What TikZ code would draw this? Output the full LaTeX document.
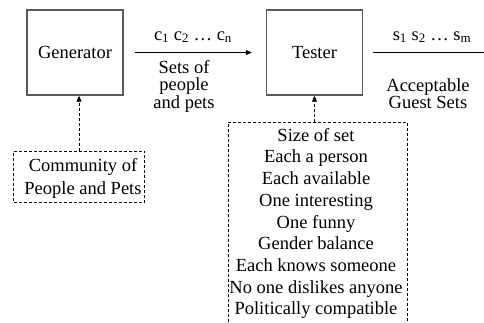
\documentclass[tikz,border=0pt]{standalone}
\usepackage{fontspec}
\setmainfont{Liberation Serif}[Ligatures=TeX]
\usetikzlibrary{arrows.meta}
\definecolor{boxgray}{HTML}{5A5A5A}
\begin{document}
\begin{tikzpicture}[x=1pt,y=-1pt,
  txt/.style={inner sep=0pt, font=\rmfamily\fontsize{18.5}{21.7}\selectfont},
  tight/.style={inner sep=0pt, align=center, font=\rmfamily\fontsize{18.5}{17.5}\selectfont},
  block/.style={txt, draw=boxgray, line width=1.3pt, minimum width=96pt, minimum height=85pt},
  flow/.style={draw=black, line width=0.9pt, -{Triangle[length=6pt,width=5pt]}},
  plainline/.style={draw=black, line width=0.9pt},
  dashline/.style={draw=black, line width=0.8pt, dash pattern=on 3pt off 2pt},
  dashflow/.style={dashline, -{Triangle[length=6pt,width=5pt]}}
]
\useasboundingbox (0,0) rectangle (484,322);

% main stages
\node[block] (gen) at (75,52.5) {Generator};
\node[block] (tester) at (314.5,52.5) {Tester};

% generator to tester
\draw[flow, shorten <=11pt, shorten >=14pt] (gen) -- (tester);
\node[txt, anchor=base] (cs) at (193,40) {c\textsubscript{1} c\textsubscript{2} … c\textsubscript{n}};
\node[tight, anchor=north] (setslab) at (184,60) {Sets of\\people\\and pets};

% tester output
\coordinate (outend) at (484,52.5);
\draw[plainline, shorten <=10pt] (tester) -- (outend);
\node[txt, anchor=base] (ss) at (432,40) {s\textsubscript{1} s\textsubscript{2} … s\textsubscript{m}};
\node[tight, anchor=north] (acclab) at (428,78) {Acceptable\\Guest Sets};

% community source
\node[draw=black, line width=0.8pt, dash pattern=on 3pt off 2pt, minimum width=131pt, minimum height=51pt, inner sep=0pt] (commbox) at (79,176.5) {};
\node[txt, align=center, font=\rmfamily\fontsize{18.5}{22.7}\selectfont] (commtext) at (83,178.5) {Community of\\People and Pets};
\draw[dashflow] (commbox.north) -- (commbox.north |- gen.south);

% constraint list
\coordinate (critbl) at (228,322);
\coordinate (crittl) at (228,122);
\coordinate (crittr) at (407,122);
\coordinate (critbr) at (407,322);
\draw[dashline] (critbl) -- (crittl) -- (crittr) -- (critbr);
\node[txt, align=center, anchor=north] (crittext) at (316,128) {Size of set\\Each a person\\Each available\\One interesting\\One funny\\Gender balance\\Each knows someone\\No one dislikes anyone\\Politically compatible};
\coordinate (crittop) at (314.5,122);
\draw[dashflow] (crittop) -- (tester.south);
\end{tikzpicture}
\end{document}
